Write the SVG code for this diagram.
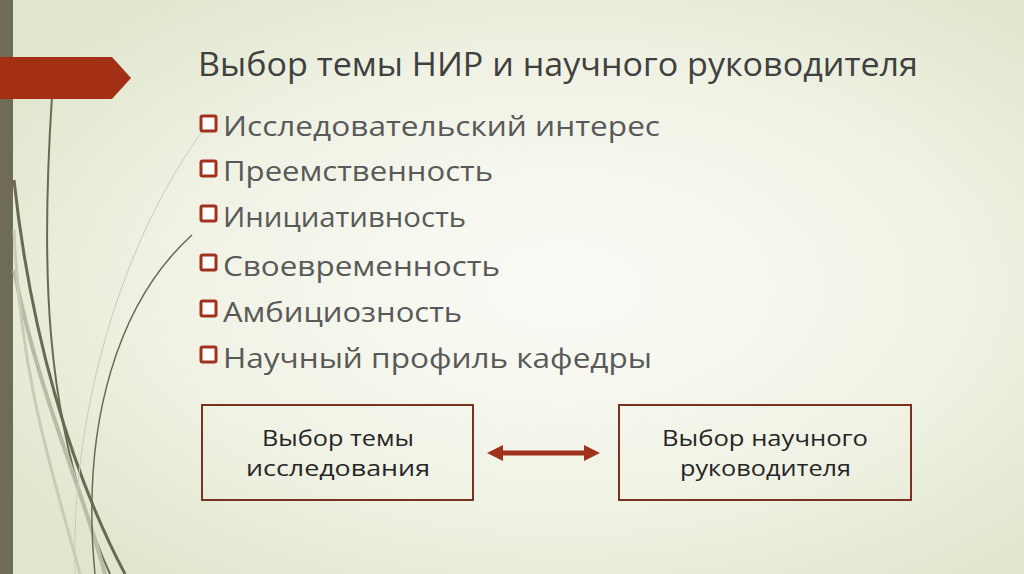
<svg xmlns="http://www.w3.org/2000/svg" width="1024" height="574" viewBox="0 0 1024 574">
<defs>
<radialGradient id="bg" cx="55%" cy="50%" r="65%">
<stop offset="0" stop-color="#fbfbf6"/><stop offset="0.6" stop-color="#f0f2e4"/><stop offset="1" stop-color="#dfe6cc"/>
</radialGradient>
<marker id="ah" viewBox="0 0 10 10" refX="5" refY="5" markerWidth="3.2" markerHeight="3.2" orient="auto-start-reverse"><path d="M0,0 L10,5 L0,10 z" fill="#a0321c"/></marker>
<style>
.t{font-family:"Open Sans","Liberation Sans",sans-serif;fill:#404040}
.b{font-size:28px;fill:#595959}
.box{fill:none;stroke:#7a3220;stroke-width:2}
.bt{font-size:22px;fill:#262626}
.st{fill:none}
</style>
</defs>
<rect width="1024" height="574" fill="url(#bg)"/>
<rect x="0" y="0" width="13" height="574" fill="#6f6b57"/>
<g id="decor" class="st">
<path d="M52,96 C42,250 40,420 110,574" stroke="#6a6a52" stroke-width="2"/>
<path d="M14,180 C30,330 70,470 125,574" stroke="#6a6a52" stroke-width="3"/>
<path d="M14,270 C40,400 80,480 105,574" stroke="#b8bca4" stroke-width="4"/>
<path d="M192,235 C120,300 80,420 95,574" stroke="#6a6a52" stroke-width="1.5"/>
<path d="M215,115 C130,220 70,400 75,574" stroke="#c8ccb4" stroke-width="1"/>
<path d="M14,230 C20,380 55,480 80,574" stroke="#c8ccb4" stroke-width="3"/>
</g>
<path d="M0,57 H112 L131,78 L112,99 H0 z" fill="#a32f14"/>
<text class="t" x="198" y="76" font-size="33" textLength="720" lengthAdjust="spacingAndGlyphs">Выбор темы НИР и научного руководителя</text>
<g id="bullets">
<g fill="#fff" stroke="#a0321c" stroke-width="3">
<rect x="201" y="116" width="15" height="15" rx="1.5"/>
<rect x="201" y="161" width="15" height="15" rx="1.5"/>
<rect x="201" y="206" width="15" height="15" rx="1.5"/>
<rect x="201" y="255" width="15" height="15" rx="1.5"/>
<rect x="201" y="301" width="15" height="15" rx="1.5"/>
<rect x="201" y="347" width="15" height="15" rx="1.5"/>
</g>
<text class="t b" x="223" y="136" textLength="437" lengthAdjust="spacingAndGlyphs">Исследовательский интерес</text>
<text class="t b" x="223" y="181" textLength="270" lengthAdjust="spacingAndGlyphs">Преемственность</text>
<text class="t b" x="223" y="227" textLength="243" lengthAdjust="spacingAndGlyphs">Инициативность</text>
<text class="t b" x="223" y="276" textLength="277" lengthAdjust="spacingAndGlyphs">Своевременность</text>
<text class="t b" x="223" y="322" textLength="239" lengthAdjust="spacingAndGlyphs">Амбициозность</text>
<text class="t b" x="223" y="368" textLength="429" lengthAdjust="spacingAndGlyphs">Научный профиль кафедры</text>
</g>
<g id="n1"><rect class="box" x="202" y="405" width="271" height="95"/>
<text class="t bt" x="262" y="446" textLength="152" lengthAdjust="spacingAndGlyphs">Выбор темы</text><text class="t bt" x="246" y="476" textLength="184" lengthAdjust="spacingAndGlyphs">исследования</text></g>
<g id="n2"><rect class="box" x="619" y="405" width="292" height="95"/>
<text class="t bt" x="662" y="446" textLength="206" lengthAdjust="spacingAndGlyphs">Выбор научного</text><text class="t bt" x="680" y="476" textLength="171" lengthAdjust="spacingAndGlyphs">руководителя</text></g>
<g id="connectors"><line x1="495" y1="453" x2="592" y2="453" stroke="#a0321c" stroke-width="5" marker-start="url(#ah)" marker-end="url(#ah)"/></g>
</svg>
